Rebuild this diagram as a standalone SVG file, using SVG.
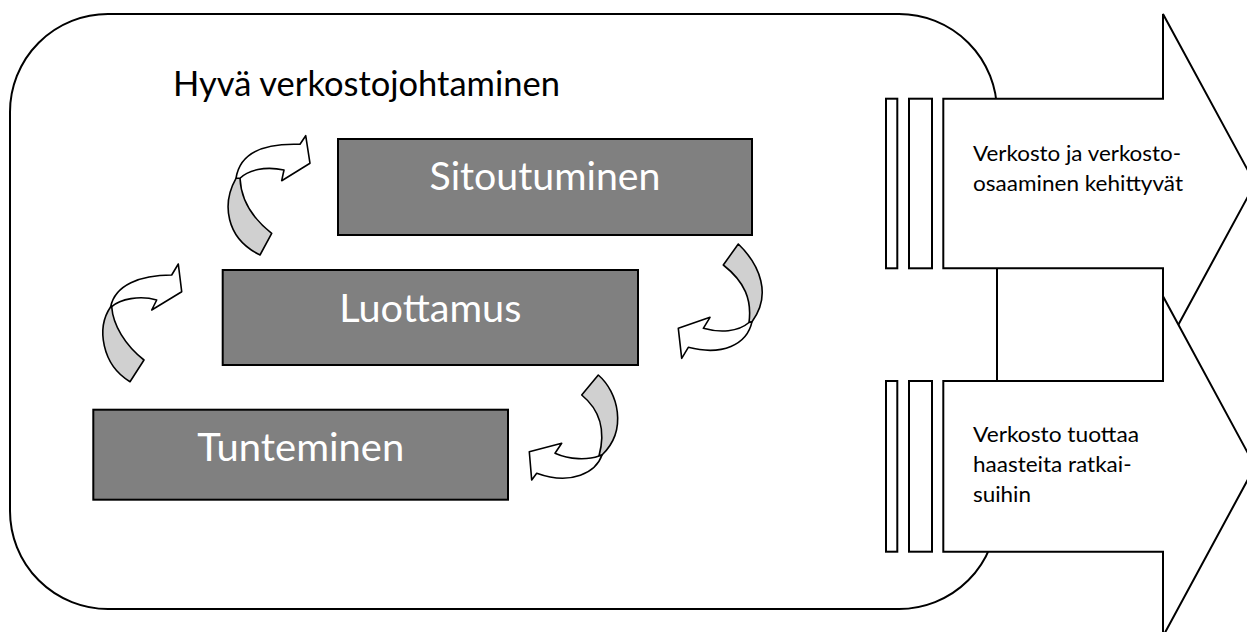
<svg xmlns="http://www.w3.org/2000/svg" width="1247" height="632" viewBox="0 0 1247 632">
<style>
.frame{fill:#fff;stroke:#000;stroke-width:2}
.box{fill:#808080;stroke:#000;stroke-width:2}
.boxtxt{font-family:Lato,"Liberation Sans",sans-serif;font-size:38px;fill:#fff;text-anchor:middle}
.title{font-family:Lato,"Liberation Sans",sans-serif;font-size:34px;fill:#000}
.big{fill:#fff;stroke:#000;stroke-width:2}
.btxt{font-family:Lato,"Liberation Sans",sans-serif;font-size:22px;fill:#000}
.band{fill:#d0d0d0;stroke:#000;stroke-width:1.6;stroke-linejoin:round}
.head{fill:#fff;stroke:#000;stroke-width:1.6;stroke-linejoin:round}
</style>
<g id="container">
<rect class="frame" x="10" y="14" width="987" height="595" rx="98" ry="98"/>
</g>
<g id="title">
<text class="title" x="173" y="96" textLength="387" lengthAdjust="spacingAndGlyphs">Hyvä verkostojohtaminen</text>
</g>
<g id="box-sitoutuminen">
<rect class="box" x="338" y="139" width="414" height="96"/>
<text class="boxtxt" x="545" y="190" textLength="231" lengthAdjust="spacingAndGlyphs">Sitoutuminen</text>
</g>
<g id="box-luottamus">
<rect class="box" x="222.7" y="270" width="415.3" height="95"/>
<text class="boxtxt" x="430.3" y="321.5" textLength="182" lengthAdjust="spacingAndGlyphs">Luottamus</text>
</g>
<g id="box-tunteminen">
<rect class="box" x="93.3" y="409.7" width="414.7" height="90"/>
<text class="boxtxt" x="300.7" y="461" textLength="207" lengthAdjust="spacingAndGlyphs">Tunteminen</text>
</g>
<g id="connectors">
<g id="arrow-a">
<path class="band" d="M236,178.3 C222,203 225,238 260,255 L271.7,233.3 C252,218 241,200 240,178.3 Z"/>
<path class="head" d="M236,178.3 C240,152 265,143 300,144.3 L305.7,135.7 L310,163.3 L281.7,180.7 L284,170 C265,166 248,170 240,178.3 Z"/>
</g>
<g id="arrow-b">
<path class="band" d="M110.7,306.7 C96,328 102,365 130,381.7 L144,360 C125,345 113,325 111.7,306.7 Z"/>
<path class="head" d="M110.7,306.7 C115,285 140,275 171.7,275 L178.3,264 L181.7,291.7 L151.7,310 L156.7,300 C140,295 120,299 111.7,306.7 Z"/>
</g>
<g id="arrow-c">
<path class="band" d="M738.3,244 C760,265 772,295 752,321.7 L749,322.5 C752,300 745,282 723.3,265 Z"/>
<path class="head" d="M752,321.7 C747,345 722,356 688.3,347.3 L681.7,358.3 L678.3,328.3 L710,317.3 L703.3,328.3 C720,333 738,332 749,322.5 Z"/>
</g>
<g id="arrow-d">
<path class="band" d="M598.3,375 C618,392 628,430 602,455 L599,456 C606,430 600,410 581.7,395 Z"/>
<path class="head" d="M602,455 C596,472 572,486 536.7,473.3 L531.7,480 L529.3,451.7 L561.7,443.3 L555,453.3 C570,460 588,460 599,456 Z"/>
</g>
</g>
<g id="outcome-1">
<rect class="big" x="886" y="98.7" width="11.3" height="169.6"/>
<rect class="big" x="909" y="98.7" width="23" height="169.6"/>
<polygon class="big" points="943.3,98.7 1163,98.7 1163,14 1255,183.5 1163,353 1163,268.3 943.3,268.3"/>
<text class="btxt" x="973" y="161" textLength="208" lengthAdjust="spacingAndGlyphs">Verkosto ja verkosto-</text>
<text class="btxt" x="973" y="191" textLength="210" lengthAdjust="spacingAndGlyphs">osaaminen kehittyvät</text>
</g>
<g id="outcome-2">
<rect class="big" x="886" y="381" width="11.3" height="170.7"/>
<rect class="big" x="909" y="381" width="23" height="170.7"/>
<polygon class="big" points="943.3,381 1163,381 1163,296.3 1255,466.3 1163,636.3 1163,551.7 943.3,551.7"/>
<text class="btxt" x="973" y="442" textLength="166" lengthAdjust="spacingAndGlyphs">Verkosto tuottaa</text>
<text class="btxt" x="973" y="472" textLength="158.6" lengthAdjust="spacingAndGlyphs">haasteita ratkai-</text>
<text class="btxt" x="973" y="502" textLength="58" lengthAdjust="spacingAndGlyphs">suihin</text>
</g>
</svg>
